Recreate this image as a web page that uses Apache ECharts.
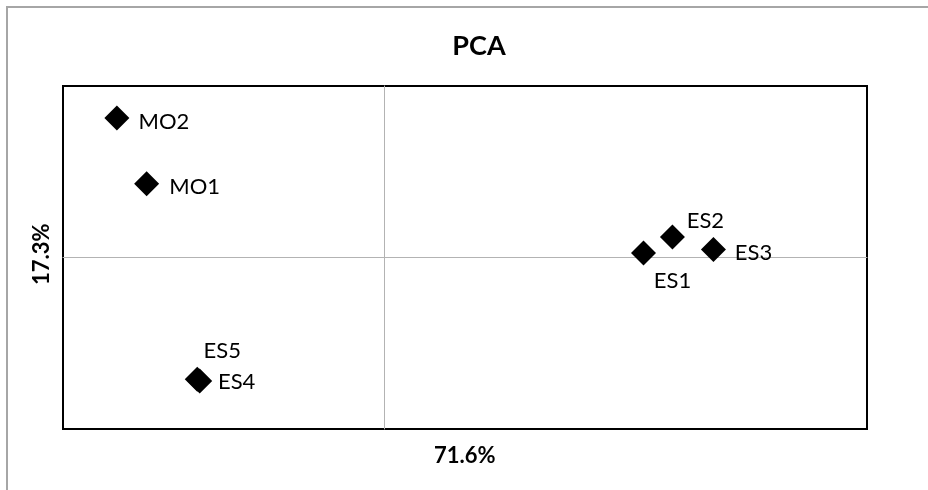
<!DOCTYPE html>
<html>
<head>
<meta charset="utf-8">
<script src="https://cdn.jsdelivr.net/npm/echarts@6/dist/echarts.min.js"></script>
<style>
  html, body { margin: 0; padding: 0; background: #fff; }
  #main { width: 928px; height: 490px; }
</style>
</head>
<body>
<div id="main"></div>
<script>
var names = ['MO2', 'MO1', 'ES1', 'ES2', 'ES3', 'ES4', 'ES5'];
var pc1 = [-3.33, -2.96, 3.22, 3.58, 4.09, -2.30, -2.33];
var pc2 = [2.44, 1.29, 0.08, 0.36, 0.14, -2.16, -2.13];
var xTitle = '71.6%';
var yTitle = '17.3%';

// label offsets from the marker centre, in px
var labelShift = {
    MO2: [47, 4], MO1: [48, 3], ES1: [29, 28], ES2: [33, -16],
    ES3: [40, 3], ES4: [37, 1], ES5: [25, -28]
};

var points = names.map(function (n, i) {
    return {
        name: n,
        value: [pc1[i], pc2[i]],
        label: { offset: labelShift[n] }
    };
});

var font = 'Lato, "Open Sans", sans-serif';

option = {
    animation: false,
    title: {
        text: 'PCA',
        left: 474,
        top: 28,
        textAlign: 'center',
        textStyle: { fontFamily: font, fontSize: 27, fontWeight: 'bold', color: '#000' }
    },
    graphic: [
        {
            type: 'rect',
            shape: { x: 7, y: 7, width: 940, height: 500 },
            style: { fill: 'none', stroke: '#a6a6a6', lineWidth: 2 }
        },
        {
            type: 'text',
            left: 434, top: 445,
            style: { text: xTitle, font: 'bold 22px ' + font, fill: '#000' }
        },
        {
            type: 'text',
            x: 31, y: 285,
            rotation: Math.PI / 2,
            style: { text: yTitle, font: 'bold 22px ' + font, fill: '#000' }
        }
    ],
    grid: {
        left: 63, top: 86, right: 61, bottom: 61,
        show: true,
        borderColor: '#000',
        borderWidth: 2
    },
    xAxis: {
        type: 'value',
        min: -4, max: 6,
        axisLine: { onZero: true, lineStyle: { color: '#b3b3b3', width: 1 } },
        axisTick: { show: false },
        axisLabel: { show: false },
        splitLine: { show: false }
    },
    yAxis: {
        type: 'value',
        min: -3, max: 3,
        axisLine: { onZero: true, lineStyle: { color: '#b3b3b3', width: 1 } },
        axisTick: { show: false },
        axisLabel: { show: false },
        splitLine: { show: false }
    },
    series: [{
        type: 'scatter',
        symbol: 'diamond',
        symbolSize: 25,
        itemStyle: { color: '#000', opacity: 1 },
        label: {
            show: true,
            position: 'inside',
            formatter: '{b}',
            color: '#000',
            opacity: 1,
            fontFamily: font,
            fontSize: 22
        },
        emphasis: { disabled: true },
        data: points
    }]
};

var myChart = echarts.init(document.getElementById('main'));
myChart.setOption(option);
</script>
</body>
</html>
